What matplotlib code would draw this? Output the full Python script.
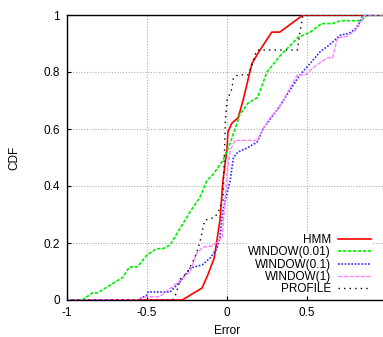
import numpy as np
import matplotlib.pyplot as plt

plt.rcParams['font.family'] = ['Liberation Sans', 'DejaVu Sans']

# =========================================================
# Data
# =========================================================

hmm_x = [-1.0, -0.28, -0.156, -0.12, -0.08, -0.044, -0.025, 0.0, 0.006, 0.03,
         0.07, 0.10, 0.156, 0.206, 0.28, 0.33, 0.475, 1.0]
hmm_y = [0.0, 0.0, 0.042, 0.088, 0.147, 0.28, 0.42, 0.53, 0.59, 0.62,
         0.64, 0.70, 0.83, 0.877, 0.94, 0.94, 1.0, 1.0]

w001_x = [-1.0, -0.906, -0.84, -0.81, -0.65, -0.61, -0.56, -0.5, -0.44, -0.4,
          -0.356, -0.23, -0.17, -0.125, -0.088, -0.025, 0.02, 0.05, 0.08, 0.13,
          0.19, 0.25, 0.33, 0.39, 0.44, 0.52, 0.59, 0.66, 0.71, 0.84, 0.875, 1.0]
w001_y = [0.0, 0.0, 0.025, 0.025, 0.08, 0.116, 0.116, 0.158, 0.18, 0.18,
          0.193, 0.31, 0.36, 0.42, 0.44, 0.49, 0.55, 0.60, 0.65, 0.69,
          0.71, 0.80, 0.856, 0.89, 0.92, 0.94, 0.97, 0.97, 0.98, 0.98, 1.0, 1.0]

w01_x = [-1.0, -0.556, -0.5, -0.494, -0.356, -0.294, -0.23, -0.156, -0.106, -0.063,
         -0.044, -0.025, 0.02, 0.04, 0.07, 0.125, 0.19, 0.225, 0.29, 0.33,
         0.375, 0.456, 0.52, 0.58, 0.64, 0.69, 0.71, 0.76, 0.8, 0.82, 0.85, 1.0]
w01_y = [0.0, 0.0, 0.018, 0.028, 0.028, 0.063, 0.112, 0.123, 0.147, 0.18,
         0.22, 0.316, 0.42, 0.50, 0.52, 0.533, 0.555, 0.60, 0.65, 0.68,
         0.72, 0.79, 0.83, 0.87, 0.895, 0.92, 0.93, 0.935, 0.95, 0.965, 1.0, 1.0]

w1_x = [-1.0, -0.56, -0.525, -0.42, -0.31, -0.23, -0.19, -0.15, -0.09, -0.03,
        0.0, 0.02, 0.05, 0.19, 0.225, 0.27, 0.32, 0.36, 0.44, 0.49,
        0.56, 0.63, 0.66, 0.69, 0.75, 0.81, 0.86, 1.0]
w1_y = [0.0, 0.0, 0.01, 0.012, 0.06, 0.1, 0.165, 0.185, 0.19, 0.22,
        0.44, 0.525, 0.56, 0.56, 0.60, 0.64, 0.67, 0.71, 0.79, 0.79,
        0.825, 0.85, 0.85, 0.92, 0.925, 0.95, 1.0, 1.0]

prof_x = [-1.0, -0.34, -0.32, -0.29, -0.25, -0.2, -0.17, -0.14, -0.075, -0.045,
          -0.025, -0.01, 0.0, 0.03, 0.04, 0.07, 0.13, 0.155, 0.175, 0.19,
          0.44, 0.456, 0.475, 1.0]
prof_y = [0.0, 0.0, 0.02, 0.075, 0.095, 0.15, 0.2, 0.28, 0.29, 0.32,
          0.35, 0.63, 0.70, 0.74, 0.78, 0.79, 0.79, 0.82, 0.86, 0.877,
          0.877, 0.94, 1.0, 1.0]

# =========================================================
# Plot
# =========================================================

fig = plt.figure(figsize=(3.83, 3.37), dpi=100)
ax = fig.add_axes([67 / 383, 37 / 337, 320 / 383, 285 / 337])

ax.plot(hmm_x, hmm_y, color="#ff0000", lw=1.2, label="HMM", zorder=3)
ax.plot(w001_x, w001_y, color="#00ee00", lw=1.2, ls=(0, (2, 1)),
        label="WINDOW(0.01)", zorder=3)
ax.plot(w01_x, w01_y, color="#2a2aff", lw=1.2, ls=(0, (1, 1)),
        label="WINDOW(0.1)", zorder=3)
ax.plot(w1_x, w1_y, color="#ff80ff", lw=1.0, ls=(0, (3, 1)),
        label="WINDOW(1)", zorder=3)
ax.plot(prof_x, prof_y, color="black", lw=1.0, ls=(0, (1, 3)),
        label="PROFILE", zorder=3)

ax.set_xlim(-1, 1)
ax.set_ylim(0, 1)
ax.set_xticks([-1, -0.5, 0, 0.5])
ax.set_xticklabels(["-1", "-0.5", "0", "0.5"])
ax.set_yticks([0, 0.2, 0.4, 0.6, 0.8, 1])
ax.set_yticklabels(["0", "0.2", "0.4", "0.6", "0.8", "1"])
ax.tick_params(direction="in", length=3, labelsize=8.5, colors="black", pad=5)

ax.grid(True, color="#b0b0b0", ls=(0, (1, 1.5)), lw=0.8)
ax.set_axisbelow(True)
for s in ax.spines.values():
    s.set_linewidth(1.0)

ax.set_xlabel("Error", fontsize=8.5, labelpad=4)
ax.set_ylabel("CDF", fontsize=8.5, labelpad=17)

leg = ax.legend(loc="lower right", bbox_to_anchor=(378 / 383, 35 / 337),
                bbox_transform=fig.transFigure, markerfirst=False,
                fontsize=8.5, handlelength=2.8, handletextpad=0.6,
                labelspacing=0.02, borderpad=0.08, frameon=True, fancybox=False)
leg.get_frame().set_facecolor("white")
leg.get_frame().set_edgecolor("none")
leg.get_frame().set_alpha(1)
leg.set_zorder(4)

# =========================================================
# Save Figure
# =========================================================

plt.savefig("out.png", dpi=100)
